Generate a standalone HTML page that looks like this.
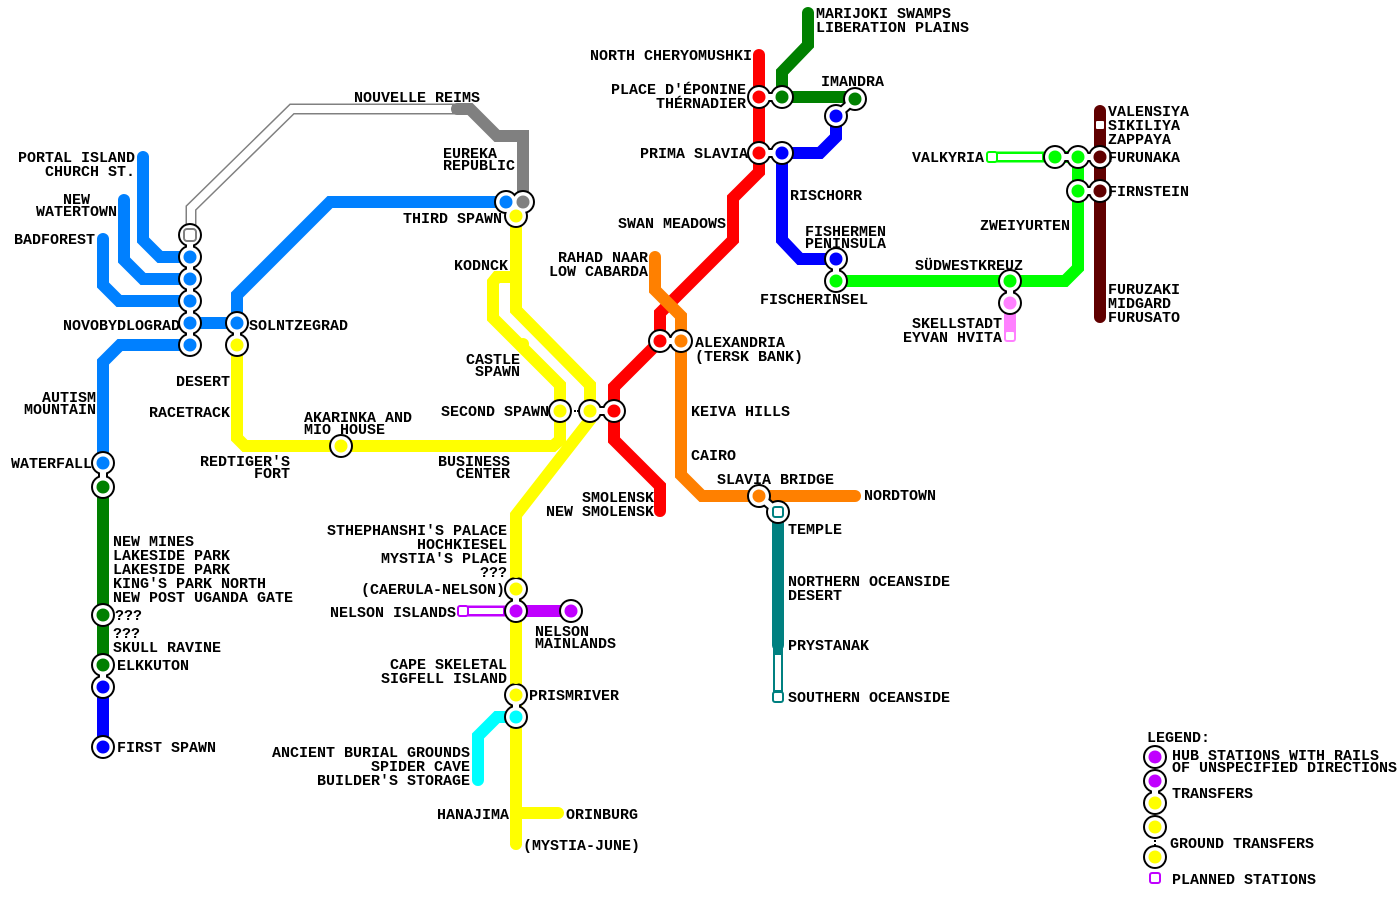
<!DOCTYPE html>
<html><head><meta charset="utf-8"><style>
html,body{margin:0;padding:0;background:#fff;width:1400px;height:900px;overflow:hidden}
text{font-family:"Liberation Mono",monospace;font-weight:bold;font-size:15px;letter-spacing:0px;fill:#000}
.e{text-anchor:end}
</style></head><body>
<svg width="1400" height="900" viewBox="0 0 1400 900" xmlns="http://www.w3.org/2000/svg">
<g fill="none" stroke-linejoin="miter" stroke-width="12">
<path d="M457,109 H292 L191,208 V235" stroke="#808080" stroke-width="11"/>
<path d="M452,109 H292 L191,208 V232" stroke="#fff" stroke-width="8"/>
<path d="M457,109 H470 L497,136 H523 V202" stroke="#808080"/>
<path d="M143,157 V240 L160,257 H190" stroke="#0080ff"/>
<path d="M124,200 V260 L143,279 H190" stroke="#0080ff"/>
<path d="M103,239 V285 L119,301 H190" stroke="#0080ff"/>
<path d="M190,323 H237" stroke="#0080ff"/>
<path d="M190,345 H120 L103,362 V463" stroke="#0080ff"/>
<path d="M237,323 V295 L330,202 H506" stroke="#0080ff"/>
<path d="M237,345 V438 L245,446 H553 L560,440 V411" stroke="#ffff00"/>
<path d="M516,216 V310 L590,385 V420 L516,515 V845" stroke="#ffff00"/>
<path d="M516,277 H497 L493,282 V318 L560,385 V411" stroke="#ffff00"/>
<path d="M516,813 H558" stroke="#ffff00"/>
<path d="M516,717 H497 L478,736 V780" stroke="#00ffff"/>
<path d="M516,611 H571" stroke="#c000ff"/>
<path d="M516,611 H463" stroke="#c000ff" stroke-width="11"/>
<path d="M503,611 H467" stroke="#fff" stroke-width="6"/>
<path d="M759,55 V172 L733,198 V240 L660,313 V341 L614,387 V440 L660,486 V511" stroke="#ff0000"/>
<path d="M655,257 V290 L681,316 V475 L702,496 H855" stroke="#ff8000"/>
<path d="M778,512 V645" stroke="#008080"/>
<path d="M778,645 V697" stroke="#008080" stroke-width="10"/>
<path d="M778,655 V690" stroke="#fff" stroke-width="6"/>
<path d="M808,13 V45 L782,72 V97 H855" stroke="#008000"/>
<path d="M103,487 V665" stroke="#008000"/>
<path d="M103,687 V747" stroke="#0000ff"/>
<path d="M782,153 V240 L800,259 H836" stroke="#0000ff"/>
<path d="M782,153 H820 L836,137 V116" stroke="#0000ff"/>
<path d="M836,281 H1065 L1078,268 V157 H1055" stroke="#00ff00"/>
<path d="M1055,157 H992" stroke="#00ff00" stroke-width="11"/>
<path d="M1042,157 H996" stroke="#fff" stroke-width="6"/>
<path d="M1010,281 V336" stroke="#ff80ff"/>
<path d="M1100,111 V317" stroke="#600000"/>
</g>

<g stroke="#000" stroke-width="10" fill="none">
<path d="M190,235 V345 M237,323 V345 M506,202 H523 L516,216 Z M590,411 H614 M759,97 H782 M759,153 H782 M855,99 L836,116 M660,341 H681 M759,496 L778,512 M836,259 V281 M1010,281 V303 M1055,157 H1100 M1078,191 H1100 M103,463 V487 M103,665 V687 M516,589 V611 M516,695 V717 M1155,781 V803"/>
</g>
<g fill="#000">
<circle cx="190" cy="235" r="12"/><circle cx="190" cy="257" r="12"/><circle cx="190" cy="279" r="12"/><circle cx="190" cy="301" r="12"/><circle cx="190" cy="323" r="12"/><circle cx="190" cy="345" r="12"/>
<circle cx="237" cy="323" r="12"/><circle cx="237" cy="345" r="12"/>
<circle cx="506" cy="202" r="12"/><circle cx="523" cy="202" r="12"/><circle cx="516" cy="216" r="12"/>
<circle cx="560" cy="411" r="12"/><circle cx="590" cy="411" r="12"/><circle cx="614" cy="411" r="12"/>
<circle cx="341" cy="446" r="12"/>
<circle cx="759" cy="97" r="12"/><circle cx="782" cy="97" r="12"/><circle cx="759" cy="153" r="12"/><circle cx="782" cy="153" r="12"/>
<circle cx="855" cy="99" r="12"/><circle cx="836" cy="116" r="12"/>
<circle cx="660" cy="341" r="12"/><circle cx="681" cy="341" r="12"/>
<circle cx="759" cy="496" r="12"/><circle cx="778" cy="512" r="12"/>
<circle cx="836" cy="259" r="12"/><circle cx="836" cy="281" r="12"/>
<circle cx="1010" cy="281" r="12"/><circle cx="1010" cy="303" r="12"/>
<circle cx="1055" cy="157" r="12"/><circle cx="1078" cy="157" r="12"/><circle cx="1100" cy="157" r="12"/>
<circle cx="1078" cy="191" r="12"/><circle cx="1100" cy="191" r="12"/>
<circle cx="103" cy="463" r="12"/><circle cx="103" cy="487" r="12"/><circle cx="103" cy="615" r="12"/><circle cx="103" cy="665" r="12"/><circle cx="103" cy="687" r="12"/><circle cx="103" cy="747" r="12"/>
<circle cx="516" cy="589" r="12"/><circle cx="516" cy="611" r="12"/><circle cx="571" cy="611" r="12"/><circle cx="516" cy="695" r="12"/><circle cx="516" cy="717" r="12"/>
<circle cx="1155" cy="757" r="12"/><circle cx="1155" cy="781" r="12"/><circle cx="1155" cy="803" r="12"/><circle cx="1155" cy="827" r="12"/><circle cx="1155" cy="857" r="12"/>
</g>
<g stroke="#fff" stroke-width="6" fill="none">
<path d="M190,235 V345 M237,323 V345 M506,202 H523 L516,216 Z M590,411 H614 M759,97 H782 M759,153 H782 M855,99 L836,116 M660,341 H681 M759,496 L778,512 M836,259 V281 M1010,281 V303 M1055,157 H1100 M1078,191 H1100 M103,463 V487 M103,665 V687 M516,589 V611 M516,695 V717 M1155,781 V803"/>
</g>
<g fill="#fff">
<circle cx="190" cy="235" r="10"/><circle cx="190" cy="257" r="10"/><circle cx="190" cy="279" r="10"/><circle cx="190" cy="301" r="10"/><circle cx="190" cy="323" r="10"/><circle cx="190" cy="345" r="10"/>
<circle cx="237" cy="323" r="10"/><circle cx="237" cy="345" r="10"/>
<circle cx="506" cy="202" r="10"/><circle cx="523" cy="202" r="10"/><circle cx="516" cy="216" r="10"/>
<circle cx="560" cy="411" r="10"/><circle cx="590" cy="411" r="10"/><circle cx="614" cy="411" r="10"/>
<circle cx="341" cy="446" r="10"/>
<circle cx="759" cy="97" r="10"/><circle cx="782" cy="97" r="10"/><circle cx="759" cy="153" r="10"/><circle cx="782" cy="153" r="10"/>
<circle cx="855" cy="99" r="10"/><circle cx="836" cy="116" r="10"/>
<circle cx="660" cy="341" r="10"/><circle cx="681" cy="341" r="10"/>
<circle cx="759" cy="496" r="10"/><circle cx="778" cy="512" r="10"/>
<circle cx="836" cy="259" r="10"/><circle cx="836" cy="281" r="10"/>
<circle cx="1010" cy="281" r="10"/><circle cx="1010" cy="303" r="10"/>
<circle cx="1055" cy="157" r="10"/><circle cx="1078" cy="157" r="10"/><circle cx="1100" cy="157" r="10"/>
<circle cx="1078" cy="191" r="10"/><circle cx="1100" cy="191" r="10"/>
<circle cx="103" cy="463" r="10"/><circle cx="103" cy="487" r="10"/><circle cx="103" cy="615" r="10"/><circle cx="103" cy="665" r="10"/><circle cx="103" cy="687" r="10"/><circle cx="103" cy="747" r="10"/>
<circle cx="516" cy="589" r="10"/><circle cx="516" cy="611" r="10"/><circle cx="571" cy="611" r="10"/><circle cx="516" cy="695" r="10"/><circle cx="516" cy="717" r="10"/>
<circle cx="1155" cy="757" r="10"/><circle cx="1155" cy="781" r="10"/><circle cx="1155" cy="803" r="10"/><circle cx="1155" cy="827" r="10"/><circle cx="1155" cy="857" r="10"/>
</g>
<g fill="#000"><rect x="574" y="410" width="2" height="2"/><rect x="577" y="410" width="2" height="2"/><rect x="1154" y="840" width="2" height="2"/><rect x="1154" y="844" width="2" height="2"/></g>

<g fill="#0080ff"><circle cx="143" cy="157" r="6"/><circle cx="143" cy="171" r="6"/><circle cx="124" cy="200" r="6"/><circle cx="103" cy="239" r="6"/><circle cx="190" cy="257" r="6.5"/><circle cx="190" cy="279" r="6.5"/><circle cx="190" cy="301" r="6.5"/><circle cx="190" cy="323" r="6.5"/><circle cx="190" cy="345" r="6.5"/><circle cx="237" cy="323" r="6.5"/><circle cx="506" cy="202" r="6.5"/><circle cx="103" cy="409" r="6"/><circle cx="103" cy="463" r="6.5"/></g>
<g fill="#808080"><circle cx="457" cy="109" r="6"/><circle cx="523" cy="136" r="6"/><circle cx="523" cy="202" r="6.5"/></g>
<rect x="184" y="229" width="12" height="12" rx="3" fill="#fff" stroke="#808080" stroke-width="2"/>
<g fill="#ffff00"><circle cx="237" cy="345" r="6.5"/><circle cx="237" cy="379" r="6"/><circle cx="237" cy="411" r="6"/><circle cx="283" cy="446" r="6"/><circle cx="341" cy="446" r="6.5"/><circle cx="505" cy="446" r="6"/><circle cx="516" cy="216" r="6.5"/><circle cx="516" cy="277" r="6"/><circle cx="523" cy="344" r="6"/><circle cx="560" cy="411" r="6.5"/><circle cx="590" cy="411" r="6.5"/><circle cx="516" cy="530" r="6"/><circle cx="516" cy="544" r="6"/><circle cx="516" cy="558" r="6"/><circle cx="516" cy="572" r="6"/><circle cx="516" cy="589" r="6.5"/><circle cx="516" cy="663" r="6"/><circle cx="516" cy="678" r="6"/><circle cx="516" cy="695" r="6.5"/><circle cx="516" cy="813" r="6"/><circle cx="558" cy="813" r="6"/><circle cx="516" cy="844" r="6"/><circle cx="1155" cy="803" r="6.5"/><circle cx="1155" cy="827" r="6.5"/><circle cx="1155" cy="857" r="6.5"/></g>
<g fill="#00ffff"><circle cx="516" cy="717" r="6.5"/><circle cx="478" cy="752" r="6"/><circle cx="478" cy="766" r="6"/><circle cx="478" cy="780" r="6"/></g>
<g fill="#c000ff"><circle cx="516" cy="611" r="6.5"/><circle cx="571" cy="611" r="6.5"/><circle cx="1155" cy="757" r="6.5"/><circle cx="1155" cy="781" r="6.5"/></g>
<rect x="458" y="606" width="10" height="10" rx="2" fill="#fff" stroke="#c000ff" stroke-width="2"/>
<rect x="1150" y="873" width="10" height="10" rx="2" fill="#fff" stroke="#c000ff" stroke-width="2"/>
<g fill="#ff0000"><circle cx="759" cy="55" r="6"/><circle cx="759" cy="97" r="6.5"/><circle cx="759" cy="153" r="6.5"/><circle cx="733" cy="223" r="6"/><circle cx="660" cy="341" r="6.5"/><circle cx="614" cy="411" r="6.5"/><circle cx="660" cy="497" r="6"/><circle cx="660" cy="511" r="6"/></g>
<g fill="#ff8000"><circle cx="655" cy="257" r="6"/><circle cx="655" cy="271" r="6"/><circle cx="681" cy="341" r="6.5"/><circle cx="681" cy="410" r="6"/><circle cx="681" cy="455" r="6"/><circle cx="759" cy="496" r="6.5"/><circle cx="855" cy="496" r="6"/></g>
<g fill="#008080"><circle cx="778" cy="530" r="6"/><circle cx="778" cy="580" r="6"/><circle cx="778" cy="594" r="6"/><circle cx="778" cy="645" r="6"/></g>
<rect x="773" y="507" width="10" height="10" rx="2" fill="#fff" stroke="#008080" stroke-width="2"/>
<rect x="773" y="692" width="10" height="10" rx="2" fill="#fff" stroke="#008080" stroke-width="2"/>
<g fill="#008000"><circle cx="808" cy="13" r="6"/><circle cx="808" cy="27" r="6"/><circle cx="782" cy="97" r="6.5"/><circle cx="855" cy="99" r="6.5"/><circle cx="103" cy="487" r="6.5"/><circle cx="103" cy="541" r="6"/><circle cx="103" cy="555" r="6"/><circle cx="103" cy="569" r="6"/><circle cx="103" cy="583" r="6"/><circle cx="103" cy="597" r="6"/><circle cx="103" cy="615" r="6.5"/><circle cx="103" cy="633" r="6"/><circle cx="103" cy="647" r="6"/><circle cx="103" cy="665" r="6.5"/></g>
<g fill="#0000ff"><circle cx="103" cy="687" r="6.5"/><circle cx="103" cy="747" r="6.5"/><circle cx="782" cy="153" r="6.5"/><circle cx="836" cy="116" r="6.5"/><circle cx="782" cy="195" r="6"/><circle cx="836" cy="259" r="6.5"/></g>
<g fill="#00ff00"><circle cx="836" cy="281" r="6.5"/><circle cx="1010" cy="281" r="6.5"/><circle cx="1078" cy="225" r="6"/><circle cx="1078" cy="191" r="6.5"/><circle cx="1078" cy="157" r="6.5"/><circle cx="1055" cy="157" r="6.5"/></g>
<rect x="987" y="152" width="10" height="10" rx="2" fill="#fff" stroke="#00ff00" stroke-width="2"/>
<g fill="#ff80ff"><circle cx="1010" cy="303" r="6.5"/><circle cx="1010" cy="321" r="6"/></g>
<rect x="1005" y="331" width="10" height="10" rx="2" fill="#fff" stroke="#ff80ff" stroke-width="2"/>
<g fill="#600000"><circle cx="1100" cy="111" r="6"/><circle cx="1100" cy="139" r="6"/><circle cx="1100" cy="157" r="6.5"/><circle cx="1100" cy="191" r="6.5"/><circle cx="1100" cy="289" r="6"/><circle cx="1100" cy="303" r="6"/><circle cx="1100" cy="317" r="6"/></g>
<rect x="1095" y="120" width="10" height="10" rx="2" fill="#fff" stroke="#600000" stroke-width="2"/>

<g>
<text class="e" x="752" y="60">NORTH CHERYOMUSHKI</text>
<text class="e" x="746" y="94">PLACE D'ÉPONINE</text>
<text class="e" x="746" y="108">THÉRNADIER</text>
<text class="e" x="748" y="158">PRIMA SLAVIA</text>
<text class="e" x="726" y="228">SWAN MEADOWS</text>
<text class="e" x="648" y="262">RAHAD NAAR</text>
<text class="e" x="648" y="276">LOW CABARDA</text>
<text class="e" x="480" y="102">NOUVELLE REIMS</text>
<text x="443" y="158">EUREKA</text>
<text x="443" y="170">REPUBLIC</text>
<text class="e" x="502" y="223">THIRD SPAWN</text>
<text class="e" x="508" y="270">KODNCK</text>
<text class="e" x="520" y="364">CASTLE</text>
<text class="e" x="520" y="376">SPAWN</text>
<text class="e" x="549" y="416">SECOND SPAWN</text>
<text class="e" x="510" y="466">BUSINESS</text>
<text class="e" x="510" y="478">CENTER</text>
<text class="e" x="290" y="466">REDTIGER'S</text>
<text class="e" x="290" y="478">FORT</text>
<text x="304" y="422">AKARINKA AND</text>
<text x="304" y="434">MIO HOUSE</text>
<text class="e" x="230" y="386">DESERT</text>
<text class="e" x="230" y="417">RACETRACK</text>
<text class="e" x="135" y="162">PORTAL ISLAND</text>
<text class="e" x="135" y="176">CHURCH ST.</text>
<text class="e" x="90" y="204">NEW</text>
<text class="e" x="117" y="216">WATERTOWN</text>
<text class="e" x="95" y="244">BADFOREST</text>
<text class="e" x="180" y="330">NOVOBYDLOGRAD</text>
<text x="249" y="330">SOLNTZEGRAD</text>
<text class="e" x="96" y="402">AUTISM</text>
<text class="e" x="96" y="414">MOUNTAIN</text>
<text class="e" x="92" y="468">WATERFALL</text>
<text x="113" y="546">NEW MINES</text>
<text x="113" y="560">LAKESIDE PARK</text>
<text x="113" y="574">LAKESIDE PARK</text>
<text x="113" y="588">KING'S PARK NORTH</text>
<text x="113" y="602">NEW POST UGANDA GATE</text>
<text x="115" y="620">???</text>
<text x="113" y="638">???</text>
<text x="113" y="652">SKULL RAVINE</text>
<text x="117" y="670">ELKKUTON</text>
<text x="117" y="752">FIRST SPAWN</text>
<text class="e" x="507" y="535">STHEPHANSHI'S PALACE</text>
<text class="e" x="507" y="549">HOCHKIESEL</text>
<text class="e" x="507" y="563">MYSTIA'S PLACE</text>
<text class="e" x="507" y="577">???</text>
<text class="e" x="505" y="594">(CAERULA-NELSON)</text>
<text class="e" x="456" y="617">NELSON ISLANDS</text>
<text x="535" y="636">NELSON</text>
<text x="535" y="648">MAINLANDS</text>
<text class="e" x="507" y="669">CAPE SKELETAL</text>
<text class="e" x="507" y="683">SIGFELL ISLAND</text>
<text x="529" y="700">PRISMRIVER</text>
<text class="e" x="470" y="757">ANCIENT BURIAL GROUNDS</text>
<text class="e" x="470" y="771">SPIDER CAVE</text>
<text class="e" x="470" y="785">BUILDER'S STORAGE</text>
<text class="e" x="509" y="819">HANAJIMA</text>
<text x="566" y="819">ORINBURG</text>
<text x="523" y="850">(MYSTIA-JUNE)</text>
<text class="e" x="654" y="502">SMOLENSK</text>
<text class="e" x="654" y="516">NEW SMOLENSK</text>
<text x="695" y="347">ALEXANDRIA</text>
<text x="695" y="361">(TERSK BANK)</text>
<text x="691" y="416">KEIVA HILLS</text>
<text x="691" y="460">CAIRO</text>
<text x="717" y="484">SLAVIA BRIDGE</text>
<text x="864" y="500">NORDTOWN</text>
<text x="788" y="534">TEMPLE</text>
<text x="788" y="586">NORTHERN OCEANSIDE</text>
<text x="788" y="600">DESERT</text>
<text x="788" y="650">PRYSTANAK</text>
<text x="788" y="702">SOUTHERN OCEANSIDE</text>
<text x="816" y="18">MARIJOKI SWAMPS</text>
<text x="816" y="32">LIBERATION PLAINS</text>
<text x="821" y="86">IMANDRA</text>
<text x="790" y="200">RISCHORR</text>
<text x="805" y="236">FISHERMEN</text>
<text x="805" y="248">PENINSULA</text>
<text x="760" y="304">FISCHERINSEL</text>
<text x="915" y="270">SÜDWESTKREUZ</text>
<text class="e" x="1002" y="328">SKELLSTADT</text>
<text class="e" x="1002" y="342">EYVAN HVITA</text>
<text class="e" x="984" y="162">VALKYRIA</text>
<text class="e" x="1070" y="230">ZWEIYURTEN</text>
<text x="1108" y="116">VALENSIYA</text>
<text x="1108" y="130">SIKILIYA</text>
<text x="1108" y="144">ZAPPAYA</text>
<text x="1108" y="162">FURUNAKA</text>
<text x="1108" y="196">FIRNSTEIN</text>
<text x="1108" y="294">FURUZAKI</text>
<text x="1108" y="308">MIDGARD</text>
<text x="1108" y="322">FURUSATO</text>
<text x="1147" y="742">LEGEND:</text>
<text x="1172" y="760">HUB STATIONS WITH RAILS</text>
<text x="1172" y="772">OF UNSPECIFIED DIRECTIONS</text>
<text x="1172" y="798">TRANSFERS</text>
<text x="1170" y="848">GROUND TRANSFERS</text>
<text x="1172" y="884">PLANNED STATIONS</text>
</g>
</svg>
</body></html>
